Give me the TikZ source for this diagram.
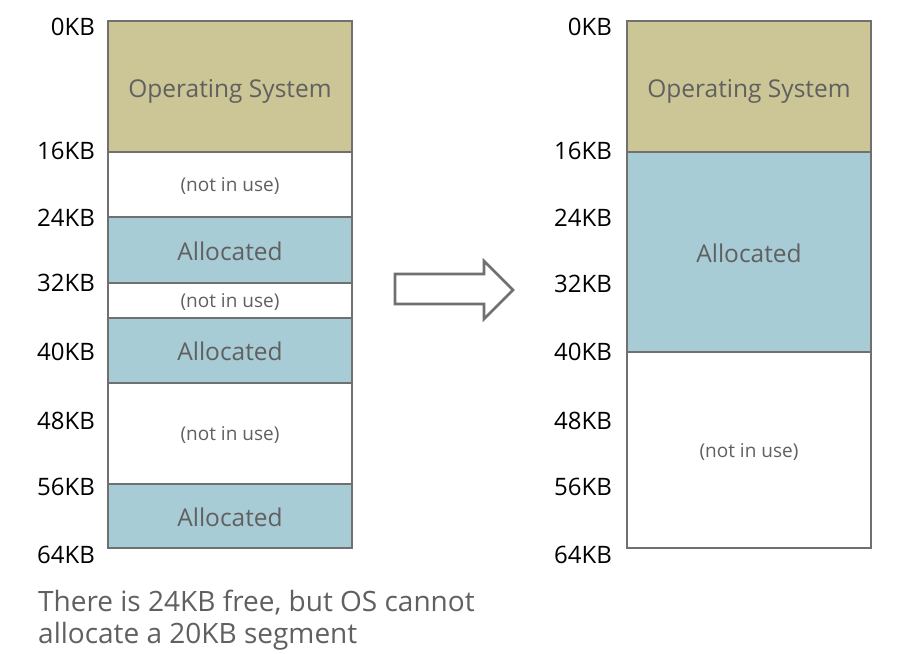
\documentclass[tikz,border=0pt]{standalone}
\usepackage{fontspec}
\setmainfont{Open Sans}
\definecolor{osfill}{HTML}{CCC596}
\definecolor{alfill}{HTML}{A8CCD5}
\definecolor{edge}{HTML}{707070}
\definecolor{txt}{HTML}{606060}
\begin{document}
\begin{tikzpicture}[x=1pt,y=-1pt,
  region/.style={draw=edge,line width=1.6pt,minimum width=244pt,inner sep=0pt,outer sep=0pt},
  osbox/.style={region,fill=osfill},
  albox/.style={region,fill=alfill},
  freebox/.style={region,fill=white},
  bigtxt/.style={anchor=base,inner sep=0pt,text=txt,font=\fontsize{24.5}{28}\selectfont},
  smalltxt/.style={anchor=base,inner sep=0pt,text=txt,font=\fontsize{19}{22}\selectfont},
  kb/.style={anchor=east,inner sep=0pt,font=\fontsize{24}{28}\selectfont,text=black},
  note/.style={anchor=base west,inner sep=0pt,font=\fontsize{28}{32}\selectfont,text=txt}]
\path[use as bounding box,fill=white] (0,0) rectangle (904,653);
% left column
\node[osbox,minimum height=131pt] (l1) at (230,86.5) {};
\node[freebox,minimum height=65pt] (l2) at (230,184.5) {};
\node[albox,minimum height=66pt] (l3) at (230,250) {};
\node[freebox,minimum height=35pt] (l4) at (230,300.5) {};
\node[albox,minimum height=65pt] (l5) at (230,350.5) {};
\node[freebox,minimum height=101pt] (l6) at (230,433.5) {};
\node[albox,minimum height=64pt] (l7) at (230,516) {};
\node[bigtxt] (t1) at ([yshift=-10.5pt]l1.center) {Operating System};
\node[smalltxt] (t2) at ([yshift=-6.5pt]l2.center) {(not in use)};
\node[bigtxt] (t3) at ([yshift=-10pt]l3.center) {Allocated};
\node[smalltxt] (t4) at ([yshift=-6.5pt]l4.center) {(not in use)};
\node[bigtxt] (t5) at ([yshift=-10pt]l5.center) {Allocated};
\node[smalltxt] (t6) at ([yshift=-7pt]l6.center) {(not in use)};
\node[bigtxt] (t7) at ([yshift=-10pt]l7.center) {Allocated};
% left labels
\node[kb] (la0) at (95,27) {0KB};
\node[kb] (la16) at (95,151) {16KB};
\node[kb] (la24) at (95,218) {24KB};
\node[kb] (la32) at (95,283) {32KB};
\node[kb] (la40) at (95,352) {40KB};
\node[kb] (la48) at (95,421) {48KB};
\node[kb] (la56) at (95,487) {56KB};
\node[kb] (la64) at (95,555) {64KB};
% right column
\node[osbox,minimum height=131pt] (r1) at (749,86.5) {};
\node[albox,minimum height=200pt] (r2) at (749,252) {};
\node[freebox,minimum height=196pt] (r3) at (749,450) {};
\node[bigtxt] (u1) at ([yshift=-11pt]r1.center) {Operating System};
\node[bigtxt] (u2) at ([yshift=-10pt]r2.center) {Allocated};
\node[smalltxt] (u3) at ([yshift=-7pt]r3.center) {(not in use)};
% right labels
\node[kb] (ra0) at (612,27) {0KB};
\node[kb] (ra16) at (612,151) {16KB};
\node[kb] (ra24) at (612,218) {24KB};
\node[kb] (ra32) at (612,284) {32KB};
\node[kb] (ra40) at (612,352) {40KB};
\node[kb] (ra48) at (612,421) {48KB};
\node[kb] (ra56) at (612,487) {56KB};
\node[kb] (ra64) at (612,555) {64KB};
% arrow
\draw[draw=edge,line width=2.6pt,fill=white,line join=miter]
  (395,274) -- (484,274) -- (484,261) -- (513,290) -- (484,319) -- (484,304) -- (395,304) -- cycle;
% note
\node[note] (n1) at (38,611) {There is 24KB free, but OS cannot};
\node[note] (n2) at (38,643) {allocate a 20KB segment};
\end{tikzpicture}
\end{document}
